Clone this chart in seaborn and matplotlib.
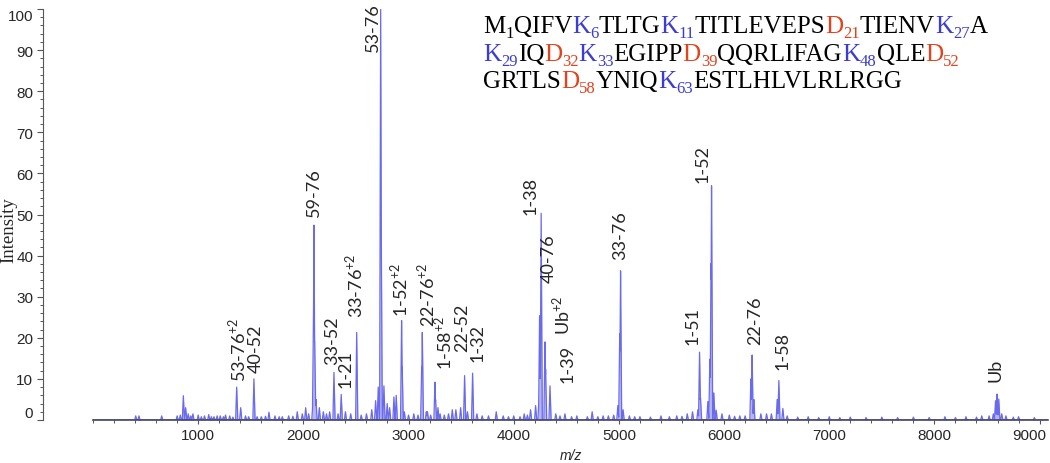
import numpy as np
import pandas as pd
import matplotlib
matplotlib.use("Agg")
import matplotlib.pyplot as plt
import seaborn as sns
from matplotlib.ticker import MultipleLocator
from matplotlib.transforms import IdentityTransform, ScaledTranslation

# Peaks (m/z, relative intensity %)
main_mz = [859, 881, 1366, 1404, 1530, 2090, 2096, 2101, 2108, 2120,
           2291, 2360, 2507, 2687, 2712, 2735, 2740, 2766, 2797, 2861, 2883,
           2934, 2940, 3125, 3131, 3251, 3257, 3280, 3533, 3609,
           4160, 4208, 4240, 4246, 4261, 4297, 4303, 4345, 4487,
           4990, 5008, 5016, 5040, 5751, 5767, 5776, 5846, 5865, 5876, 5881,
           5903, 5925, 6255, 6267, 6283, 6505, 6521, 6559,
           8520, 8560, 8581, 8596, 8612, 8640, 8680]
main_int = [5.9, 3.0, 8.0, 3.0, 10.0, 4.0, 24.0, 47.4, 19.0, 5.0,
            11.6, 6.2, 21.3, 4.7, 8.0, 100.0, 50.0, 8.3, 4.0, 5.6, 6.0,
            24.2, 13.0, 13.0, 21.3, 9.2, 5.0, 3.0, 10.8, 11.4,
            2.5, 3.5, 5.0, 25.4, 50.3, 19.0, 12.4, 8.3, 1.5,
            3.5, 21.0, 36.3, 2.5, 2.5, 16.5, 5.4, 4.5, 14.8, 38.0, 57.0,
            6.6, 2.4, 10.0, 15.8, 5.0, 5.0, 9.6, 2.8,
            1.0, 1.5, 4.7, 6.3, 5.1, 1.5, 1.0]

# small baseline peaks
minor_mz = [406, 437, 653, 800, 830, 905, 930, 950, 1000, 1030, 1060, 1100,
            1125, 1150, 1180, 1210, 1240, 1260, 1300, 1330, 1450, 1480, 1560,
            1600, 1640, 1673, 1730, 1770, 1800, 1860, 1900, 1942, 1990, 2022,
            2050, 2152, 2190, 2220, 2250, 2330, 2400, 2450, 2550, 2600, 2650,
            2820, 2960, 3000, 3050, 3090, 3169, 3180, 3210, 3300, 3340, 3380,
            3416, 3450, 3495, 3560, 3650, 3700, 3760, 3834, 3900, 3950, 4000,
            4060, 4100, 4130, 4400, 4440, 4550, 4600, 4700, 4746, 4800, 4850,
            4900, 4950, 5100, 5150, 5200, 5300, 5400, 5480, 5550, 5600, 5650,
            5700, 5980, 6050, 6100, 6150, 6200, 6350, 6404, 6450, 6600, 6700,
            6800, 6900, 7000, 7100, 7200, 7350, 7500, 7650, 7800, 7950, 8100,
            8200, 8300, 8400, 8450, 8750, 8800, 8950]
minor_int = [1.0, 1.0, 1.0, 1.0, 1.2, 1.5, 1.0, 1.5, 1.2, 0.8, 1.0, 1.3,
             0.8, 0.8, 1.0, 1.0, 0.8, 1.2, 1.0, 0.7, 1.0, 0.8, 0.8,
             0.8, 0.9, 1.9, 1.0, 0.8, 0.8, 1.0, 0.9, 2.0, 1.5, 3.0,
             1.5, 3.0, 2.0, 1.5, 2.0, 1.5, 2.0, 1.5, 1.2, 1.5, 2.5,
             3.0, 2.0, 1.2, 1.5, 1.2, 2.0, 2.0, 1.2, 1.5, 1.2, 1.5,
             2.5, 2.5, 3.0, 2.0, 1.5, 1.0, 1.0, 2.0, 1.0, 0.8, 1.0,
             0.8, 1.5, 1.2, 1.5, 1.0, 0.8, 1.0, 0.8, 2.0, 0.8, 1.0,
             1.0, 1.2, 1.0, 0.8, 0.8, 0.7, 1.0, 0.8, 1.0, 0.9, 1.5,
             2.0, 1.5, 1.2, 0.9, 1.0, 1.0, 1.5, 1.5, 1.5, 1.0, 0.7,
             0.8, 0.6, 0.8, 0.6, 0.7, 0.6, 0.7, 0.6, 0.7, 0.6, 0.8,
             0.6, 0.8, 0.7, 1.0, 0.7, 0.8, 0.6]

# fragment labels and where they sit (m/z, intensity)
frag_labels = ["53-76$^{\\mathregular{+2}}$", "40-52", "59-76", "33-52", "1-21",
               "33-76$^{\\mathregular{+2}}$", "53-76", "1-52$^{\\mathregular{+2}}$",
               "22-76$^{\\mathregular{+2}}$", "1-58$^{\\mathregular{+2}}$", "22-52",
               "1-32", "1-38", "40-76", "Ub$^{\\mathregular{+2}}$", "1-39", "33-76",
               "1-51", "1-52", "22-76", "1-58", "Ub"]
frag_x = [1370, 1550, 2101, 2275, 2402, 2481, 2662, 2909, 3163, 3327, 3510,
          3660, 4161, 4335, 4449, 4515, 5016, 5697, 5792, 6299, 6552, 8581]
frag_y = [9.6, 11.6, 49.7, 13.6, 8.0, 25.1, 89.9, 25.4, 22.9, 12.4, 16.8,
          14.4, 50.1, 33.5, 20.9, 9.2, 39.2, 18.5, 57.8, 18.5, 12.4, 9.6]

# ubiquitin sequence, K in blue, D in red
seq_lines = ["M1 QIFV K6 TLTG K11 TITLEVEPS D21 TIENV K27 A",
             "K29 IQ D32 K33 EGIPP D39 QQRLIFAG K48 QLE D52",
             "GRTLS D58 YNIQ K63 ESTLHLVLRLRGG"]
res_colors = {"K": "#3c3cd2", "D": "#e2421c"}

sns.set_style("ticks")
plt.rcParams["font.family"] = ["Liberation Sans", "DejaVu Sans"]

# build profile from the peak list
grid = np.arange(0, 9080, 1.0)
spec = np.zeros_like(grid)
for mz, h in zip(main_mz + minor_mz, main_int + minor_int):
    spec = np.maximum(spec, h * np.clip(1 - np.abs(grid - mz) / 10.0, 0, None))
df = pd.DataFrame({"mz": grid, "intensity": spec})

fig = plt.figure(figsize=(10.5, 4.64), dpi=100)
ax = fig.add_axes([93 / 1050, 1 - 421 / 464, 955 / 1050, 411 / 464])

ax.fill_between(df["mz"], df["intensity"], color="#8585f2", alpha=0.6, lw=0)
sns.lineplot(data=df, x="mz", y="intensity", ax=ax, color="#6a6aee",
             lw=0.9, estimator=None)

ax.set_xlim(0, 9080)
ax.set_ylim(0, 100)
ax.xaxis.set_minor_locator(MultipleLocator(200))
ax.set_xticks(range(1000, 9001, 1000))
ax.yaxis.set_minor_locator(MultipleLocator(2))
ax.set_yticks(range(0, 101, 10))

sns.despine(ax=ax, offset={"left": 36})
ax.spines["left"].set_color("#555555")
ax.spines["bottom"].set_color("#45455e")
ax.spines["bottom"].set_linewidth(1.2)
ax.tick_params(axis="both", which="major", labelsize=11, length=4,
               width=0.8, color="#555555", pad=3)
ax.tick_params(axis="both", which="minor", length=2.5, width=0.7,
               color="#555555")
ax.tick_params(axis="x", which="major", length=3)

yt = ax.yaxis.get_major_ticks()
yt[0].label1.set_va("bottom")
yt[-1].label1.set_va("top")
last = ax.xaxis.get_major_ticks()[-1].label1
last.set_ha("right")
last.set_transform(last.get_transform()
                   + ScaledTranslation(7 / 100, 0, fig.dpi_scale_trans))

ax.set_xlabel("m/z", style="italic", fontsize=10, labelpad=4)
ax.set_ylabel("")
fig.text(9 / 1050, 1 - 230 / 464, "Intensity", rotation=90, ha="center",
         va="center", family="Liberation Serif", fontsize=13.5)

for lab, x, y in zip(frag_labels, frag_x, frag_y):
    ax.text(x, y, lab, rotation=90, ha="center", va="bottom", fontsize=13,
            family=["Lato", "DejaVu Sans"], clip_on=False)

# sequence block
renderer = fig.canvas.get_renderer()
base_y = [464 - 33, 464 - 61, 464 - 88]
for line, by in zip(seq_lines, base_y):
    x = 483
    for tok in line.split():
        res = tok.rstrip("0123456789")
        num = tok[len(res):]
        col = res_colors.get(res, "black") if num else "black"
        t = fig.text(x, by, res, transform=IdentityTransform(), color=col,
                     family="Liberation Serif", fontsize=18, va="baseline")
        x = t.get_window_extent(renderer).x1
        if num:
            t = fig.text(x, by - 5, num, transform=IdentityTransform(),
                         color=col, family="Liberation Serif", fontsize=12,
                         va="baseline")
            x = t.get_window_extent(renderer).x1

fig.savefig("out.png", dpi=100)
